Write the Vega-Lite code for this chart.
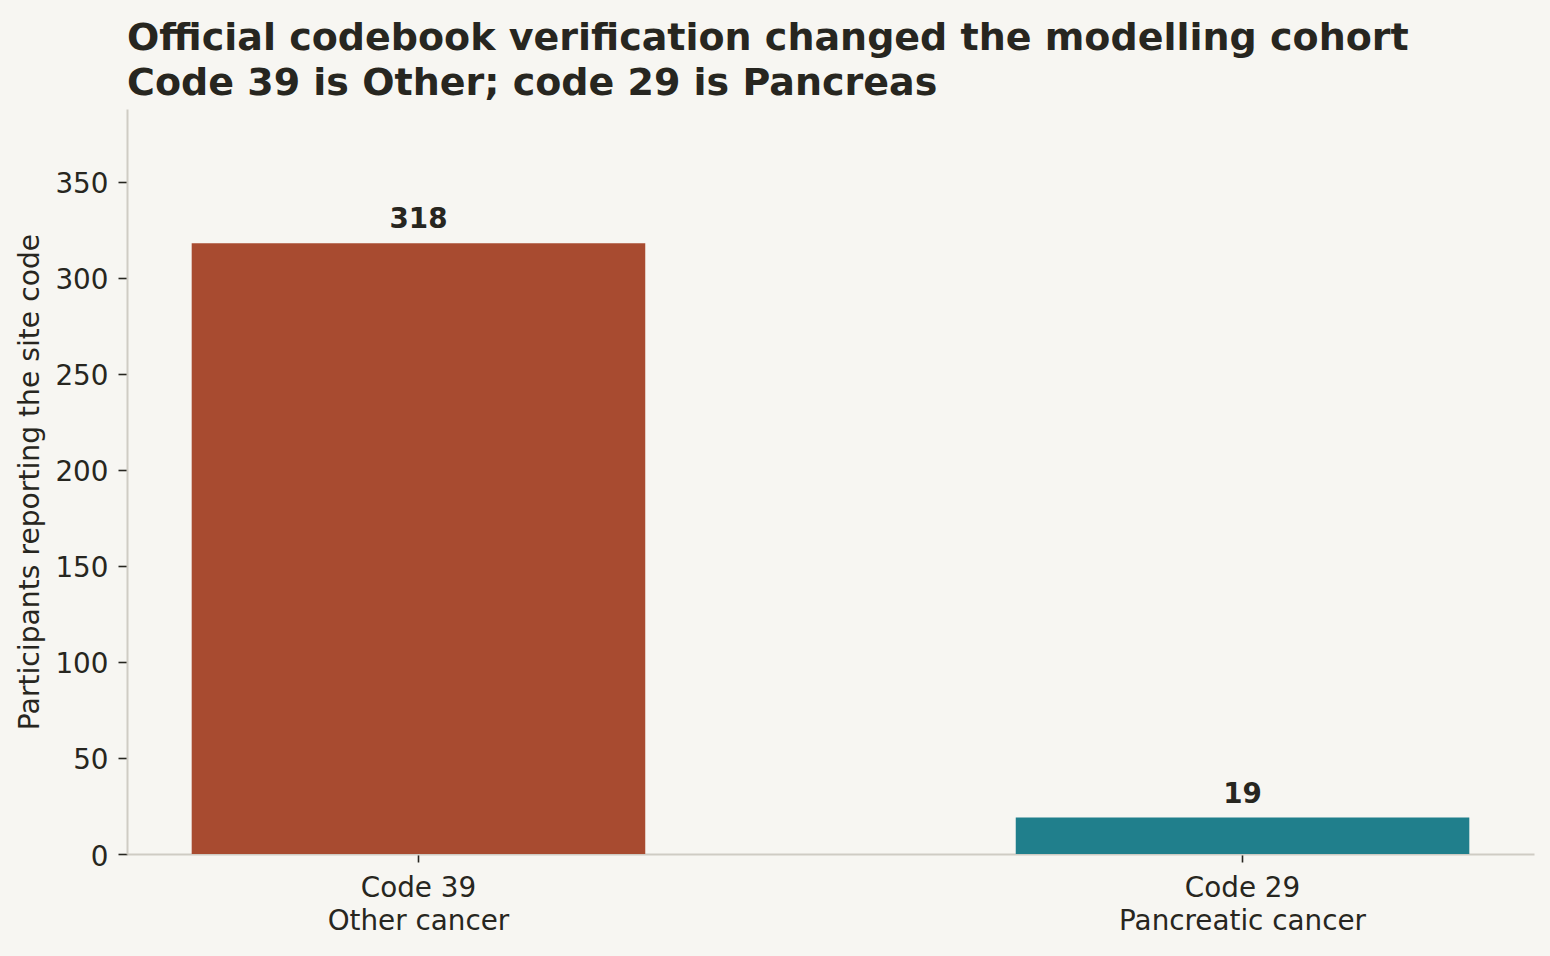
{
  "$schema": "https://vega.github.io/schema/vega-lite/v6.json",
  "width": 1407,
  "height": 745,
  "autosize": {"type": "none"},
  "padding": {"left": 127, "top": 109, "right": 16, "bottom": 102},
  "background": "#F7F6F2",
  "title": {
    "text": ["Official codebook verification changed the modelling cohort", "Code 39 is Other; code 29 is Pancreas"],
    "anchor": "start",
    "frame": "group",
    "font": "DejaVu Sans",
    "fontSize": 38,
    "fontWeight": "bold",
    "color": "#272620",
    "lineHeight": 45,
    "baseline": "alphabetic",
    "offset": 15,
    "dy": 39
  },
  "data": {
    "values": [
      {"code": "Code 39|Other cancer", "n": 318, "group": "Other"},
      {"code": "Code 29|Pancreatic cancer", "n": 19, "group": "Pancreas"}
    ]
  },
  "encoding": {
    "x": {
      "field": "code",
      "type": "nominal",
      "sort": null,
      "scale": {"paddingInner": 0.4496, "paddingOuter": 0.0785},
      "axis": {
        "title": null,
        "labelAngle": 0,
        "labelLimit": 0,
        "labelExpr": "split(datum.label, '|')",
        "labelLineHeight": 33,
        "labelFont": "DejaVu Sans",
        "labelFontSize": 27.8,
        "labelColor": "#272620",
        "labelPadding": 12,
        "domainColor": "#CFCCC4",
        "domainWidth": 2,
        "tickColor": "#272620",
        "tickSize": 8,
        "tickWidth": 1.6,
        "grid": false
      }
    },
    "y": {
      "field": "n",
      "type": "quantitative",
      "scale": {"domain": [0, 387.96], "nice": false},
      "axis": {
        "title": "Participants reporting the site code",
        "titleFont": "DejaVu Sans",
        "titleFontSize": 28.2,
        "titleFontWeight": "normal",
        "titleColor": "#272620",
        "titlePadding": 10,
        "values": [0, 50, 100, 150, 200, 250, 300, 350],
        "labelFont": "DejaVu Sans",
        "labelFontSize": 27.8,
        "labelColor": "#272620",
        "labelPadding": 10,
        "labelOffset": 3,
        "domainColor": "#CFCCC4",
        "domainWidth": 2,
        "tickColor": "#272620",
        "tickSize": 9,
        "tickWidth": 1.6,
        "grid": false
      }
    }
  },
  "layer": [
    {
      "mark": {"type": "bar"},
      "encoding": {
        "color": {
          "field": "group",
          "type": "nominal",
          "scale": {"domain": ["Other", "Pancreas"], "range": ["#A84B30", "#207F8C"]},
          "legend": null
        }
      }
    },
    {
      "mark": {
        "type": "text",
        "dy": -15,
        "baseline": "alphabetic",
        "font": "DejaVu Sans",
        "fontWeight": "bold",
        "fontSize": 27.8,
        "color": "#272620"
      },
      "encoding": {"text": {"field": "n", "type": "quantitative"}}
    }
  ],
  "config": {"view": {"stroke": null}}
}
